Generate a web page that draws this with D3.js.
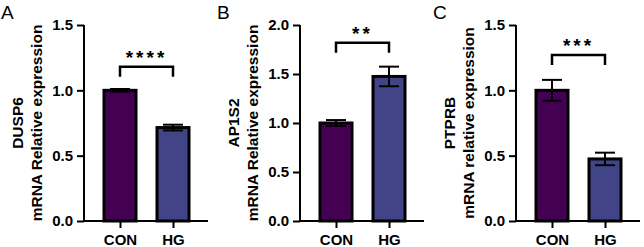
<!DOCTYPE html>
<html>
<head>
<meta charset="utf-8">
<script src="https://cdn.jsdelivr.net/npm/d3@7"></script>
<style>
  body { margin: 0; background: #fff; }
  svg { display: block; font-family: 'Liberation Sans', Arial, sans-serif; }
  .tick text { font-weight: bold; }
</style>
</head>
<body>
<svg width="644" height="247"></svg>
<script>
const groups = ['CON', 'HG']
const groupColors = ['#440154', '#414487']
const panelLetters = ['A', 'B', 'C']
const genes = ['DUSP6', 'AP1S2', 'PTPRB']
const subtitles = ['mRNA Relative expression', 'mRNA Relative expression', 'mRNA relative expression']
const means = [[1.0, 0.715], [1.0, 1.475], [1.0, 0.475]]
const errors = [[0.01, 0.022], [0.03, 0.1], [0.08, 0.048]]
const yMax = [1.5, 2.0, 1.5]
const yTicks = [[0, 0.5, 1.0, 1.5], [0, 0.5, 1.0, 1.5, 2.0], [0, 0.5, 1.0, 1.5]]
const stars = ['****', '**', '***']
const bracketLevel = [1.18, 1.82, 1.27]

const svg = d3.select('svg')

const panelWidth = 216
const axisOffset = 83
const plotTop = 25
const plotBottom = 221
const xLen = 124
const barW = 32

panelLetters.forEach((letter, i) => {
  const g = svg.append('g')
    .attr('transform', `translate(${1 + i * panelWidth}, 0)`)

  g.append('text')
    .attr('x', 0)
    .attr('y', 18.5)
    .attr('font-size', 19)
    .text(letter)

  const plot = g.append('g')
    .attr('transform', `translate(${axisOffset}, 0)`)

  const xScale = d3.scalePoint()
    .domain(groups)
    .range([36, 89])

  const yScale = d3.scaleLinear()
    .domain([0, yMax[i]])
    .range([plotBottom, plotTop])

  const data = groups.map((grp, j) => ({ grp, mean: means[i][j], err: errors[i][j], color: groupColors[j] }))

  // bars
  plot.selectAll('rect.bar')
    .data(data)
    .join('rect')
    .attr('class', 'bar')
    .attr('x', d => xScale(d.grp) - barW / 2)
    .attr('y', d => yScale(d.mean))
    .attr('width', barW)
    .attr('height', d => yScale(0) - yScale(d.mean))
    .attr('fill', d => d.color)
    .attr('stroke', '#000')
    .attr('stroke-width', 3)

  // error bars
  const capW = 20
  const eb = plot.selectAll('g.err')
    .data(data)
    .join('g')
    .attr('class', 'err')
    .attr('stroke', '#000')
    .attr('stroke-width', 2)
  eb.append('line')
    .attr('x1', d => xScale(d.grp)).attr('x2', d => xScale(d.grp))
    .attr('y1', d => yScale(d.mean - d.err)).attr('y2', d => yScale(d.mean + d.err))
  eb.append('line')
    .attr('x1', d => xScale(d.grp) - capW / 2).attr('x2', d => xScale(d.grp) + capW / 2)
    .attr('y1', d => yScale(d.mean + d.err)).attr('y2', d => yScale(d.mean + d.err))
  eb.append('line')
    .attr('x1', d => xScale(d.grp) - capW / 2).attr('x2', d => xScale(d.grp) + capW / 2)
    .attr('y1', d => yScale(d.mean - d.err)).attr('y2', d => yScale(d.mean - d.err))

  // y axis
  const yAxis = d3.axisLeft(yScale)
    .tickValues(yTicks[i])
    .tickFormat(d3.format('.1f'))
    .tickSize(7)
    .tickSizeOuter(0)
    .tickPadding(4)
  const yg = plot.append('g').call(yAxis)
  yg.select('.domain').attr('stroke-width', 2).attr('d', `M0,${plotBottom}V${plotTop}`)
  yg.selectAll('.tick line').attr('stroke-width', 2)
  yg.selectAll('.tick text').attr('font-size', 15).attr('fill', '#000')

  // x axis
  const xAxis = d3.axisBottom(xScale)
    .tickSize(7)
    .tickSizeOuter(0)
    .tickPadding(6.5)
  const xg = plot.append('g')
    .attr('transform', `translate(0, ${plotBottom})`)
    .call(xAxis)
  xg.select('.domain').attr('stroke-width', 2).attr('d', `M-1,0H${xLen}`)
  xg.selectAll('.tick line').attr('stroke-width', 2)
  xg.selectAll('.tick text').attr('font-size', 15).attr('fill', '#000')

  // y axis title
  const midY = (plotTop + plotBottom) / 2
  plot.append('text')
    .attr('transform', `translate(-61, ${midY}) rotate(-90)`)
    .attr('text-anchor', 'middle')
    .attr('font-size', 15.5)
    .attr('font-weight', 'bold')
    .text(genes[i])
  plot.append('text')
    .attr('transform', `translate(-42.5, ${midY}) rotate(-90)`)
    .attr('text-anchor', 'middle')
    .attr('font-size', 15.5)
    .attr('font-weight', 'bold')
    .text(subtitles[i])

  // significance bracket
  const bx1 = xScale(groups[0])
  const bx2 = xScale(groups[1])
  const by = yScale(bracketLevel[i])
  plot.append('path')
    .attr('d', `M${bx1},${by + 10}V${by}H${bx2}V${by + 10}`)
    .attr('fill', 'none')
    .attr('stroke', '#000')
    .attr('stroke-width', 2.5)
  plot.append('text')
    .attr('x', (bx1 + bx2) / 2)
    .attr('y', by - 3)
    .attr('text-anchor', 'middle')
    .attr('font-size', 19)
    .attr('font-weight', 'bold')
    .attr('letter-spacing', 3)
    .text(stars[i])
})
</script>
</body>
</html>
